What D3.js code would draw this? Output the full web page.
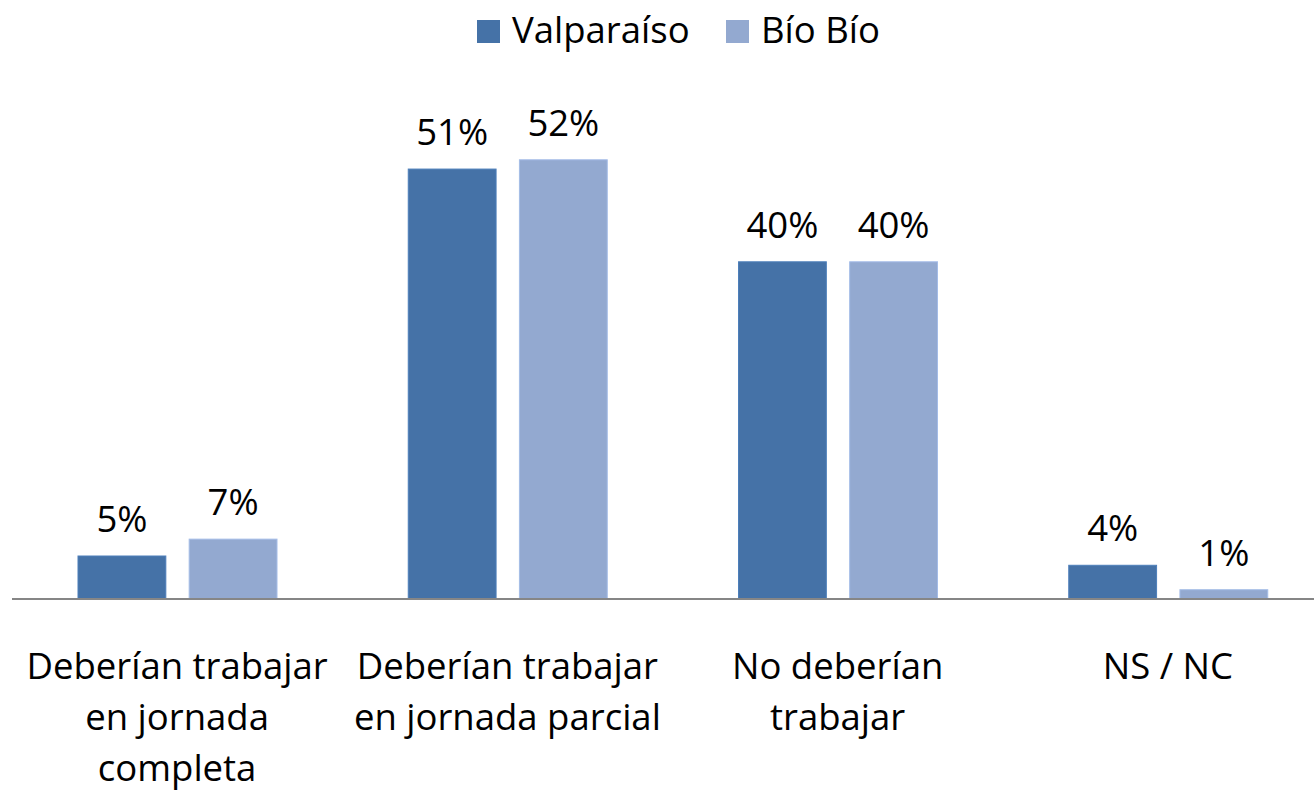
<!DOCTYPE html>
<html>
<head>
<meta charset="utf-8">
<script src="https://cdn.jsdelivr.net/npm/d3@7"></script>
<style>
  body { margin: 0; background: #fff; }
  text { font-family: "Open Sans", Lato, sans-serif; fill: #000; }
</style>
</head>
<body>
<div id="chart"></div>
<script>
// Data
const categories = [
    ['Deberían trabajar', 'en jornada', 'completa'],
    ['Deberían trabajar', 'en jornada parcial'],
    ['No deberían', 'trabajar'],
    ['NS / NC']
];
const seriesNames = ['Valparaíso', 'Bío Bío'];
const valparaiso = [5.1, 51, 40, 4.0];
const bioBio = [7.1, 52.1, 40, 1.1];
const valueLabels = [['5%', '51%', '40%', '4%'], ['7%', '52%', '40%', '1%']];
const colors = ['#4572A7', '#93A9D0'];

const width = 1314;
const height = 791;
const baseline = 599;
const fontSize = 36.5;

const svg = d3.select('#chart').append('svg')
    .attr('width', width)
    .attr('height', height);

const x0 = d3.scaleBand()
    .domain(d3.range(categories.length))
    .range([12, 1333]);

const x1 = d3.scaleBand()
    .domain(d3.range(seriesNames.length))
    .range([66, 265])
    .paddingInner(0.21);

const y = d3.scaleLinear()
    .domain([0, 60])
    .range([baseline, baseline - 60 * 8.43]);

const series = [valparaiso, bioBio];

// Bars + value labels
series.forEach((vals, s) => {
    svg.append('g').selectAll('rect')
        .data(vals)
        .enter().append('rect')
            .attr('x', (d, i) => x0(i) + x1(s))
            .attr('y', d => y(d))
            .attr('width', x1.bandwidth())
            .attr('height', d => baseline - y(d))
            .attr('fill', colors[s])
            .attr('stroke', d3.color(colors[s]).brighter(0.3))
            .attr('stroke-width', 1);

    svg.append('g').selectAll('text')
        .data(vals)
        .enter().append('text')
            .attr('x', (d, i) => x0(i) + x1(s) + x1.bandwidth() / 2)
            .attr('y', d => y(d) - 24)
            .attr('text-anchor', 'middle')
            .attr('font-size', fontSize)
            .text((d, i) => valueLabels[s][i]);
});

// Axis line
svg.append('line')
    .attr('x1', 12).attr('x2', width)
    .attr('y1', baseline).attr('y2', baseline)
    .attr('stroke', '#868686')
    .attr('stroke-width', 2);

// Category labels
categories.forEach((lines, i) => {
    const cx = x0(i) + x0.bandwidth() / 2;
    const t = svg.append('text')
        .attr('text-anchor', 'middle')
        .attr('font-size', fontSize);
    lines.forEach((line, j) => {
        t.append('tspan')
            .attr('x', cx)
            .attr('y', 679 + j * 51)
            .text(line);
    });
});

// Legend
const legendX = [477, 726];
seriesNames.forEach((name, s) => {
    svg.append('rect')
        .attr('x', legendX[s]).attr('y', 20)
        .attr('width', 23).attr('height', 23)
        .attr('fill', colors[s]);
    svg.append('text')
        .attr('x', legendX[s] + 35)
        .attr('y', 43)
        .attr('font-size', fontSize)
        .text(name);
});
</script>
</body>
</html>
